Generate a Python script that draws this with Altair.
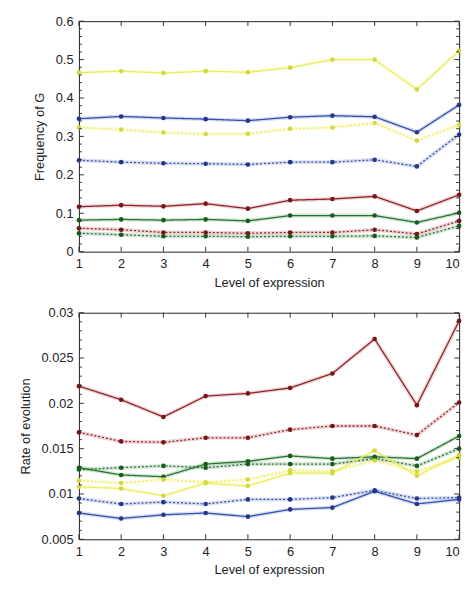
import altair as alt
import pandas as pd

levels = list(range(1, 11))

# ---- Top panel: Frequency of G ----
freq_yellow_solid = [0.466, 0.470, 0.465, 0.470, 0.467, 0.479, 0.500, 0.500, 0.422, 0.523]
freq_yellow_dotted = [0.323, 0.318, 0.310, 0.306, 0.307, 0.320, 0.323, 0.335, 0.289, 0.330]
freq_blue_solid = [0.346, 0.352, 0.348, 0.345, 0.341, 0.350, 0.354, 0.351, 0.311, 0.382]
freq_blue_dotted = [0.238, 0.233, 0.230, 0.229, 0.227, 0.233, 0.233, 0.239, 0.222, 0.305]
freq_red_solid = [0.117, 0.121, 0.118, 0.125, 0.112, 0.134, 0.137, 0.144, 0.106, 0.148]
freq_green_solid = [0.082, 0.084, 0.082, 0.084, 0.080, 0.094, 0.094, 0.094, 0.076, 0.101]
freq_red_dotted = [0.061, 0.057, 0.050, 0.050, 0.048, 0.050, 0.050, 0.057, 0.046, 0.080]
freq_green_dotted = [0.048, 0.044, 0.040, 0.040, 0.039, 0.040, 0.040, 0.041, 0.037, 0.067]

# ---- Bottom panel: Rate of evolution ----
rate_red_solid = [0.0219, 0.0204, 0.0185, 0.0208, 0.0211, 0.0217, 0.0233, 0.0271, 0.0198, 0.0291]
rate_red_dotted = [0.0168, 0.0158, 0.0157, 0.0162, 0.0162, 0.0171, 0.0175, 0.0175, 0.0165, 0.0201]
rate_green_solid = [0.0129, 0.0121, 0.0119, 0.0133, 0.0136, 0.0142, 0.0139, 0.0141, 0.0139, 0.0164]
rate_green_dotted = [0.0127, 0.0129, 0.0131, 0.0129, 0.0133, 0.0133, 0.0133, 0.0139, 0.0131, 0.0150]
rate_yellow_solid = [0.0108, 0.0106, 0.0098, 0.0112, 0.0109, 0.0123, 0.0123, 0.0148, 0.0120, 0.0143]
rate_yellow_dotted = [0.0115, 0.0112, 0.0116, 0.0113, 0.0116, 0.0126, 0.0125, 0.0137, 0.0125, 0.0140]
rate_blue_dotted = [0.0095, 0.0089, 0.0091, 0.0089, 0.0094, 0.0094, 0.0096, 0.0104, 0.0095, 0.0096]
rate_blue_solid = [0.0079, 0.0073, 0.0077, 0.0079, 0.0075, 0.0083, 0.0085, 0.0103, 0.0089, 0.0094]

# ---- Axis tick values ----
freq_major = [0.0, 0.1, 0.2, 0.3, 0.4, 0.5, 0.6]
freq_minor = [0.02, 0.04, 0.06, 0.08, 0.12, 0.14, 0.16, 0.18, 0.22, 0.24, 0.26, 0.28,
              0.32, 0.34, 0.36, 0.38, 0.42, 0.44, 0.46, 0.48, 0.52, 0.54, 0.56, 0.58]
rate_major = [0.005, 0.01, 0.015, 0.02, 0.025, 0.03]
rate_minor = [0.006, 0.007, 0.008, 0.009, 0.011, 0.012, 0.013, 0.014,
              0.016, 0.017, 0.018, 0.019, 0.021, 0.022, 0.023, 0.024,
              0.026, 0.027, 0.028, 0.029]

color_names = ["yellow", "blue", "red", "green"]
line_colors = ["#ecec5a", "#3050ae", "#932329", "#23752c"]
marker_colors = ["#d6d640", "#24378a", "#7a1418", "#175c1e"]

W = 386
H_TOP = 234
H_BOT = 230
MAJ = 5
MIN = 3
TICK = "#333333"
FONT = "Liberation Sans"
FS = 13


def make_df(series_list):
    rows = []
    for name, color, style, values in series_list:
        for lv, v in zip(levels, values):
            rows.append({"level": lv, "value": v, "series": name, "color": color, "style": style})
    return pd.DataFrame(rows)


top_df = make_df([
    ("ys", "yellow", "solid", freq_yellow_solid),
    ("yd", "yellow", "dotted", freq_yellow_dotted),
    ("bs", "blue", "solid", freq_blue_solid),
    ("bd", "blue", "dotted", freq_blue_dotted),
    ("rs", "red", "solid", freq_red_solid),
    ("rd", "red", "dotted", freq_red_dotted),
    ("gs", "green", "solid", freq_green_solid),
    ("gd", "green", "dotted", freq_green_dotted),
])

bottom_df = make_df([
    ("rs", "red", "solid", rate_red_solid),
    ("rd", "red", "dotted", rate_red_dotted),
    ("gs", "green", "solid", rate_green_solid),
    ("gd", "green", "dotted", rate_green_dotted),
    ("ys", "yellow", "solid", rate_yellow_solid),
    ("yd", "yellow", "dotted", rate_yellow_dotted),
    ("bd", "blue", "dotted", rate_blue_dotted),
    ("bs", "blue", "solid", rate_blue_solid),
])


def panel(df, ydomain, major, minor, ytitle, h):
    xs = alt.Scale(domain=[1, 10], nice=False)
    ys = alt.Scale(domain=ydomain, nice=False, zero=False)
    xaxis = alt.Axis(values=levels, format="d", ticks=False, domain=False, grid=False, labelFlush=False,
                     labelAlign={"condition": {"test": "datum.value >= 10", "value": "right"},
                                 "value": "center"},
                     labelPadding=6, title="Level of expression", titlePadding=6)
    yaxis = alt.Axis(values=major, format="~g", ticks=False, domain=False, grid=False,
                     labelPadding=6, title=ytitle, titlePadding=9)
    X = alt.X("level:Q", scale=xs, axis=xaxis)
    Y = alt.Y("value:Q", scale=ys, axis=yaxis)

    base = alt.Chart(df)
    color = alt.Color("color:N", scale=alt.Scale(domain=color_names, range=line_colors), legend=None)
    dash = alt.StrokeDash("style:N", scale=alt.Scale(domain=["solid", "dotted"], range=[[1, 0], [2, 2]]),
                          legend=None)

    halo = base.mark_line(strokeWidth=4, opacity=0.18).encode(
        x=X, y=Y, color=color, detail="series:N")
    lines = base.mark_line(strokeWidth=1.3).encode(
        x=X, y=Y, color=color, strokeDash=dash, detail="series:N")
    points = base.mark_circle(size=22, opacity=1).encode(
        x=X, y=Y,
        fill=alt.Fill("color:N", scale=alt.Scale(domain=color_names, range=marker_colors), legend=None),
    )

    ymaj = alt.Chart(pd.DataFrame({"value": major}))
    ymin = alt.Chart(pd.DataFrame({"value": minor}))
    xmaj = alt.Chart(pd.DataFrame({"level": levels}))

    def yrule(src, x0, x1):
        return src.mark_rule(color=TICK, strokeWidth=1).encode(
            y=Y, x=alt.value(x0), x2=alt.value(x1))

    def xrule(y0, y1):
        return xmaj.mark_rule(color=TICK, strokeWidth=1).encode(
            x=X, y=alt.value(y0), y2=alt.value(y1))

    ticks = [
        yrule(ymaj, 0, MAJ), yrule(ymaj, W - MAJ, W),
        yrule(ymin, 0, MIN), yrule(ymin, W - MIN, W),
        xrule(h - MAJ, h), xrule(0, MAJ),
    ]

    return alt.layer(halo, lines, points, *ticks).properties(width=W, height=h)


top = panel(top_df, [0, 0.6], freq_major, freq_minor, "Frequency of G", H_TOP)
bottom = panel(bottom_df, [0.005, 0.03], rate_major, rate_minor, "Rate of evolution", H_BOT)

chart = alt.vconcat(top, bottom, spacing=16).properties(
    padding={"left": 10, "top": 2, "right": 0, "bottom": 0}
).configure_view(
    stroke="#222222", strokeWidth=1
).configure_axis(
    labelFont=FONT, labelFontSize=FS, labelColor="#222222",
    titleFont=FONT, titleFontSize=FS, titleColor="#222222", titleFontWeight="normal"
)

chart.save("out.html", embed_options={"renderer": "svg", "actions": False})
